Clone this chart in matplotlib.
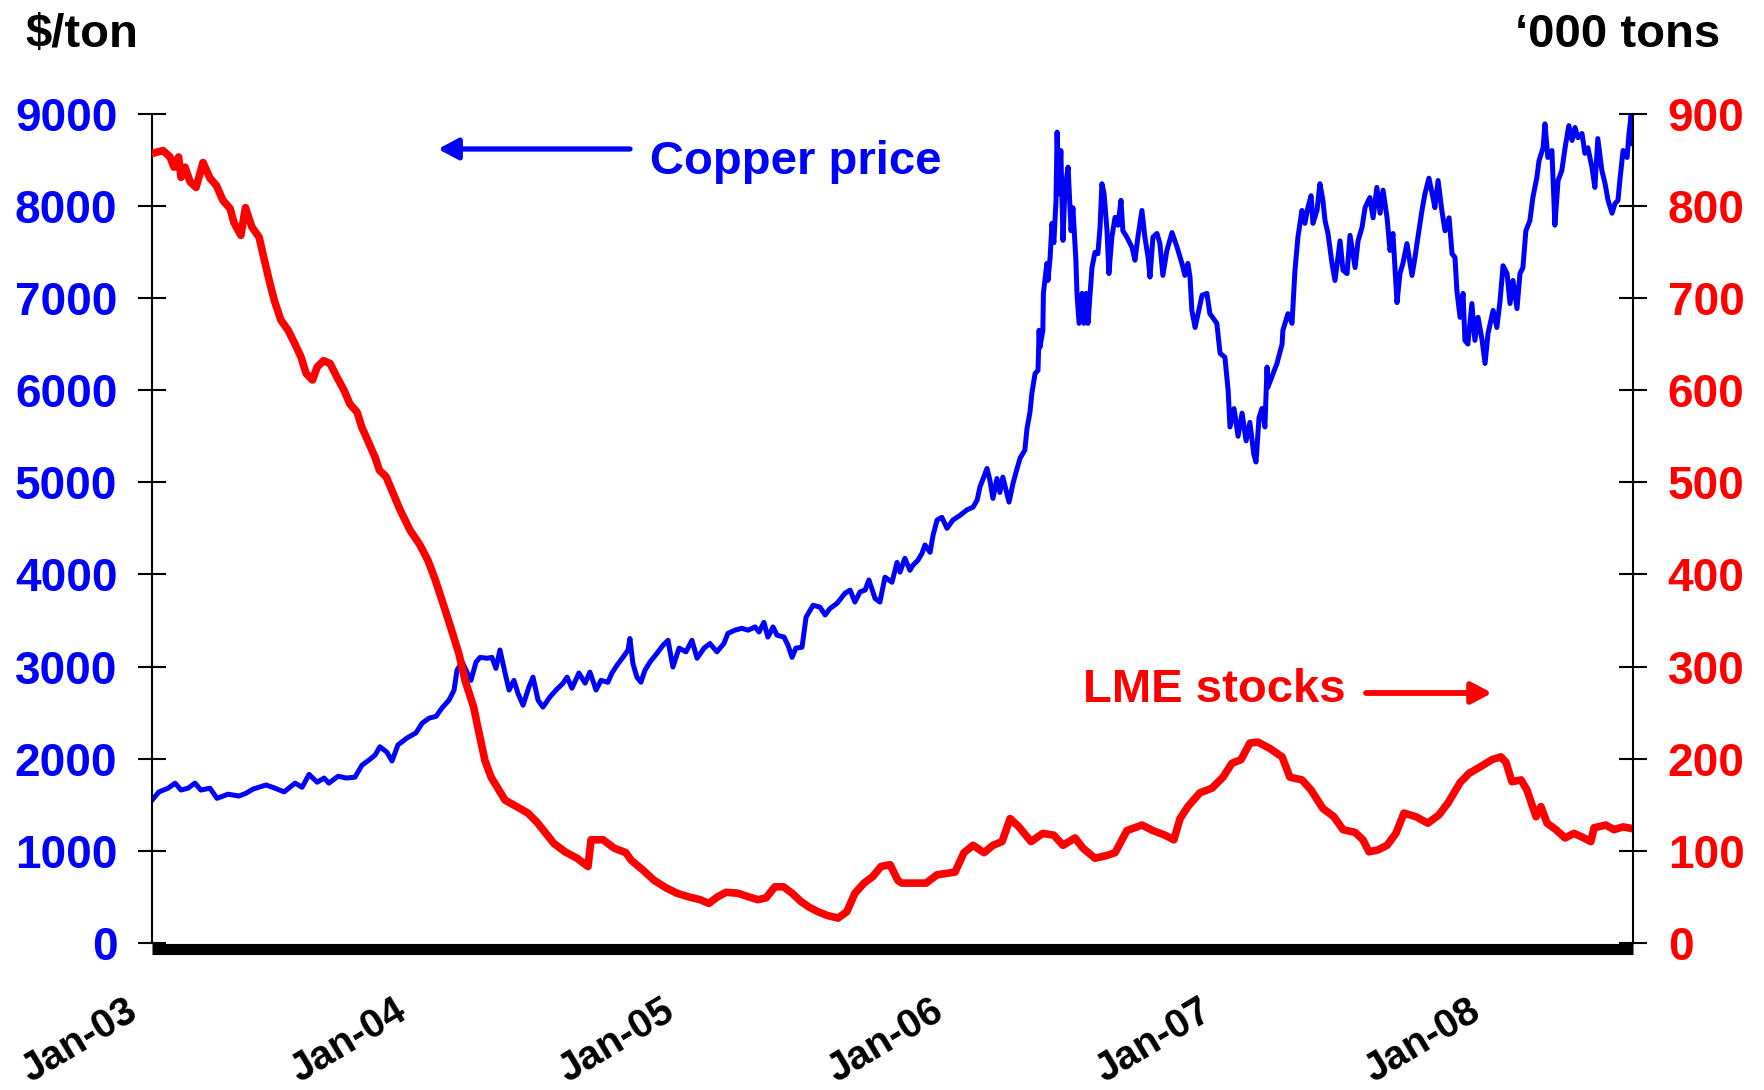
import matplotlib
matplotlib.use("Agg")
import matplotlib.pyplot as plt
import matplotlib.transforms as mtransforms

plt.rcParams['font.family'] = ['Liberation Sans', 'DejaVu Sans']
plt.rcParams['font.weight'] = 'bold'

# copper price, $/ton  (x = years since 1 Jan 2003)
t_copper = [
    0.000, 0.026, 0.060, 0.086, 0.108, 0.134, 0.160, 0.182, 0.216, 0.242,
    0.283, 0.324, 0.350, 0.376, 0.425, 0.458, 0.492, 0.533, 0.559, 0.585,
    0.615, 0.641, 0.659, 0.693, 0.723, 0.756, 0.782, 0.808, 0.831, 0.849,
    0.875, 0.894, 0.916, 0.950, 0.983, 1.006, 1.032, 1.058, 1.080, 1.106,
    1.125, 1.136, 1.155, 1.173, 1.188, 1.207, 1.222, 1.248, 1.266, 1.281,
    1.296, 1.315, 1.330, 1.348, 1.363, 1.382, 1.404, 1.419, 1.438, 1.456,
    1.482, 1.505, 1.531, 1.546, 1.564, 1.590, 1.613, 1.631, 1.654, 1.672,
    1.698, 1.713, 1.732, 1.754, 1.773, 1.780, 1.791, 1.806, 1.821, 1.836,
    1.855, 1.881, 1.903, 1.922, 1.940, 1.963, 1.989, 2.011, 2.030, 2.056,
    2.078, 2.104, 2.130, 2.145, 2.171, 2.197, 2.220, 2.246, 2.261, 2.279,
    2.294, 2.313, 2.328, 2.354, 2.369, 2.384, 2.398, 2.421, 2.436, 2.462,
    2.488, 2.507, 2.525, 2.551, 2.581, 2.600, 2.618, 2.637, 2.656, 2.670,
    2.693, 2.711, 2.730, 2.756, 2.775, 2.786, 2.804, 2.823, 2.834, 2.853,
    2.868, 2.879, 2.898, 2.909, 2.924, 2.942, 2.961, 2.983, 3.009, 3.035,
    3.058, 3.073, 3.084, 3.110, 3.121, 3.132, 3.147, 3.158, 3.169, 3.184,
    3.192, 3.207, 3.222, 3.233, 3.251, 3.259, 3.270, 3.277, 3.289, 3.300,
    3.304, 3.307, 3.318, 3.320, 3.333, 3.337, 3.345, 3.352, 3.359, 3.367,
    3.371, 3.378, 3.385, 3.393, 3.400, 3.412, 3.423, 3.430, 3.441, 3.445,
    3.453, 3.464, 3.471, 3.479, 3.486, 3.501, 3.512, 3.523, 3.531, 3.538,
    3.546, 3.557, 3.564, 3.575, 3.587, 3.598, 3.609, 3.616, 3.631, 3.650,
    3.661, 3.672, 3.687, 3.698, 3.710, 3.717, 3.728, 3.743, 3.754, 3.765,
    3.780, 3.799, 3.818, 3.836, 3.847, 3.858, 3.866, 3.873, 3.885, 3.911,
    3.929, 3.940, 3.966, 3.978, 3.996, 4.008, 4.015, 4.030, 4.045, 4.060,
    4.075, 4.089, 4.104, 4.112, 4.123, 4.134, 4.145, 4.153, 4.156, 4.190,
    4.209, 4.212, 4.231, 4.246, 4.250, 4.257, 4.268, 4.283, 4.294, 4.305,
    4.317, 4.324, 4.339, 4.350, 4.361, 4.369, 4.380, 4.395, 4.406, 4.425,
    4.436, 4.451, 4.462, 4.481, 4.492, 4.507, 4.518, 4.536, 4.548, 4.562,
    4.574, 4.585, 4.600, 4.611, 4.622, 4.637, 4.648, 4.659, 4.674, 4.693,
    4.704, 4.715, 4.730, 4.741, 4.756, 4.771, 4.778, 4.790, 4.804, 4.816,
    4.831, 4.842, 4.853, 4.860, 4.872, 4.883, 4.890, 4.901, 4.916, 4.927,
    4.939, 4.954, 4.965, 4.976, 4.995, 5.009, 5.021, 5.032, 5.047, 5.058,
    5.069, 5.084, 5.095, 5.106, 5.117, 5.132, 5.143, 5.158, 5.166, 5.181,
    5.188, 5.199, 5.214, 5.225, 5.237, 5.251, 5.263, 5.277, 5.289, 5.300,
    5.311, 5.326, 5.337, 5.348, 5.363, 5.374, 5.385, 5.400, 5.412, 5.423,
    5.438, 5.449, 5.460, 5.467, 5.479, 5.494, 5.501, 5.509, 5.516,
]
copper = [
    1550, 1640, 1680, 1735, 1660, 1680, 1735, 1660, 1680, 1570,
    1615, 1595, 1625, 1670, 1715, 1680, 1640, 1735, 1690, 1830,
    1745, 1790, 1735, 1810, 1790, 1800, 1930, 1985, 2040, 2130,
    2070, 1975, 2150, 2225, 2280, 2385, 2440, 2460, 2550, 2635,
    2745, 2960, 3050, 2940, 2850, 3050, 3100, 3090, 3100, 2980,
    3180, 2930, 2745, 2850, 2710, 2580, 2780, 2885, 2635, 2560,
    2670, 2745, 2820, 2885, 2765, 2930, 2820, 2940, 2745, 2850,
    2830, 2930, 3015, 3100, 3180, 3305, 3035, 2885, 2830, 2960,
    3050, 3145, 3230, 3285, 2995, 3200, 3160, 3285, 3090, 3200,
    3250, 3160, 3250, 3360, 3395, 3415, 3395, 3430, 3375, 3480,
    3320, 3430, 3340, 3320, 3230, 3100, 3200, 3210, 3535, 3665,
    3645, 3560, 3630, 3685, 3795, 3830, 3700, 3810, 3830, 3940,
    3740, 3700, 3970, 3915, 4130, 4025, 4175, 4045, 4100, 4155,
    4230, 4320, 4240, 4425, 4590, 4620, 4500, 4590, 4640, 4700,
    4730, 4805, 4950, 5150, 5020, 4825, 5040, 4890, 5055, 4880,
    4785, 4990, 5150, 5260, 5350, 5585, 5760, 5965, 6180, 6215,
    6650, 6465, 6650, 7050, 7375, 7190, 7440, 7810, 7600, 8060,
    8800, 8130, 8600, 7625, 8170, 8420, 7730, 7980, 7410, 7050,
    6725, 7050, 6725, 7050, 6725, 7330, 7495, 7480, 7770, 8240,
    8130, 7730, 7265, 7660, 7875, 7790, 8060, 7730, 7660, 7550,
    7410, 7660, 7950, 7660, 7440, 7227, 7660, 7700, 7590, 7245,
    7516, 7710, 7550, 7375, 7245, 7375, 7230, 6865, 6680, 7030,
    7050, 6830, 6725, 6400, 6357, 6000, 5600, 5800, 5500, 5750,
    5450, 5650, 5300, 5220, 5700, 5800, 5600, 6250, 6030, 6290,
    6500, 6650, 6830, 6725, 6940, 7300, 7660, 7950, 7810, 7980,
    8110, 7810, 7950, 8240, 8060, 7840, 7700, 7375, 7190, 7620,
    7300, 7265, 7680, 7330, 7620, 7770, 7980, 8090, 7870, 8200,
    7920, 8170, 7870, 7516, 7700, 6950, 7265, 7375, 7590, 7245,
    7440, 7660, 7950, 8130, 8300, 8090, 7980, 8275, 7950, 7730,
    7870, 7480, 7440, 7080, 6790, 7050, 6540, 6500, 6940, 6540,
    6790, 6540, 6290, 6615, 6865, 6680, 6975, 7350, 7265, 6940,
    7190, 6885, 7265, 7330, 7730, 7840, 8090, 8310, 8490, 8630,
    8890, 8525, 8600, 7790, 8275, 8385, 8630, 8870, 8710, 8850,
    8740, 8785, 8570, 8630, 8420, 8200, 8730, 8385, 8240, 8060,
    7920, 8025, 8060, 8275, 8600, 8525, 8785, 8980, 8675,
]

# LME copper stocks, '000 tons  (x = years since 1 Jan 2003)
t_stocks = [
    0.003, 0.041, 0.067, 0.082, 0.099, 0.108, 0.123, 0.142, 0.164, 0.190,
    0.216, 0.240, 0.264, 0.291, 0.305, 0.331, 0.348, 0.372, 0.399, 0.413,
    0.439, 0.456, 0.480, 0.507, 0.531, 0.555, 0.574, 0.598, 0.615, 0.639,
    0.663, 0.689, 0.715, 0.737, 0.764, 0.781, 0.804, 0.831, 0.847, 0.872,
    0.898, 0.924, 0.961, 0.998, 1.028, 1.054, 1.080, 1.112, 1.143, 1.166,
    1.198, 1.218, 1.240, 1.263, 1.292, 1.315, 1.358, 1.400, 1.434, 1.464,
    1.497, 1.538, 1.583, 1.624, 1.635, 1.680, 1.721, 1.765, 1.784, 1.829,
    1.870, 1.914, 1.955, 2.000, 2.041, 2.074, 2.106, 2.138, 2.182, 2.223,
    2.257, 2.287, 2.320, 2.352, 2.384, 2.417, 2.447, 2.480, 2.514, 2.555,
    2.588, 2.618, 2.652, 2.684, 2.715, 2.749, 2.778, 2.793, 2.883, 2.924,
    2.991, 3.024, 3.058, 3.099, 3.132, 3.166, 3.196, 3.229, 3.274, 3.318,
    3.359, 3.393, 3.438, 3.467, 3.512, 3.557, 3.587, 3.631, 3.687, 3.728,
    3.773, 3.806, 3.829, 3.858, 3.903, 3.948, 3.989, 4.022, 4.056, 4.089,
    4.119, 4.164, 4.209, 4.238, 4.283, 4.317, 4.361, 4.402, 4.436, 4.481,
    4.510, 4.533, 4.566, 4.600, 4.633, 4.663, 4.708, 4.752, 4.793, 4.827,
    4.872, 4.905, 4.946, 4.991, 5.024, 5.043, 5.065, 5.099, 5.121, 5.155,
    5.173, 5.196, 5.229, 5.263, 5.296, 5.326, 5.359, 5.371, 5.415, 5.445,
    5.479, 5.516,
]
stocks = [
    857, 860, 853, 842, 853, 831, 842, 826, 820, 847,
    830, 822, 806, 797, 782, 768, 798, 777, 766, 748,
    716, 697, 676, 665, 651, 636, 618, 611, 625, 632,
    629, 614, 600, 585, 576, 560, 545, 527, 513, 506,
    488, 470, 448, 432, 415, 395, 372, 343, 314, 285,
    256, 228, 198, 180, 166, 155, 148, 141, 131, 120,
    108, 99, 92, 83, 112, 112, 103, 98, 90, 79,
    68, 60, 54, 50, 47, 43, 50, 55, 54, 50,
    47, 49, 61, 61, 54, 45, 39, 34, 30, 27,
    34, 54, 65, 72, 83, 85, 68, 65, 65, 74,
    77, 98, 106, 98, 106, 110, 135, 126, 110, 119,
    117, 106, 114, 103, 92, 95, 98, 122, 128, 122,
    117, 112, 135, 148, 163, 168, 180, 195, 199, 217,
    218, 211, 202, 180, 177, 166, 146, 137, 123, 120,
    112, 99, 101, 106, 119, 141, 137, 130, 139, 152,
    174, 184, 191, 199, 202, 196, 175, 177, 166, 137,
    148, 130, 123, 114, 119, 115, 110, 125, 128, 123,
    126, 124,
]

year_ticks = [0, 1, 2, 3, 4, 5]
year_labels = ['Jan-03', 'Jan-04', 'Jan-05', 'Jan-06', 'Jan-07', 'Jan-08']
price_ticks = [0, 1000, 2000, 3000, 4000, 5000, 6000, 7000, 8000, 9000]
stock_ticks = [0, 100, 200, 300, 400, 500, 600, 700, 800, 900]

BLUE = '#0000ff'
RED = '#ff0000'

W, H = 1765, 1090
fig = plt.figure(figsize=(W / 100, H / 100), dpi=100)
ax = fig.add_axes([152 / W, 1 - 943 / H, 1481 / W, 829.3 / H])
ax2 = ax.twinx()

ax.plot(t_copper, copper, color=BLUE, lw=3.6, solid_joinstyle='round')
ax2.plot(t_stocks, stocks, color=RED, lw=5.5, solid_joinstyle='round',
         solid_capstyle='round')

ax.set_xlim(0, t_copper[-1])
ax.set_ylim(0, 9000)
ax2.set_ylim(0, 900)

# spines: thin left/right, heavy bar along the bottom
for s in ['top', 'right']:
    ax.spines[s].set_visible(False)
for s in ['top', 'bottom', 'left']:
    ax2.spines[s].set_visible(False)
ax.spines['left'].set_linewidth(1.5)
ax2.spines['right'].set_linewidth(1.5)
ax.spines['bottom'].set_linewidth(8)
ax.spines['bottom'].set_capstyle('butt')
ax.spines['bottom'].set_position(('outward', 4))

ax.set_yticks(price_ticks)
ax2.set_yticks(stock_ticks)
ax.tick_params(axis='y', direction='inout', length=20, width=1.5, pad=15,
               labelsize=33, labelcolor=BLUE)
ax2.tick_params(axis='y', direction='inout', length=20, width=1.5, pad=15,
                labelsize=33, labelcolor=RED)

ax.set_xticks(year_ticks)
ax.set_xticklabels(year_labels)
ax.tick_params(axis='x', length=0, pad=31, labelsize=29)
shift = mtransforms.ScaledTranslation(-0.08, 0, fig.dpi_scale_trans)
for lab in ax.get_xticklabels():
    lab.set_rotation(31)
    lab.set_ha('right')
    lab.set_va('top')
    lab.set_transform(lab.get_transform() + shift)

# axis unit labels
fig.text(25 / W, 1 - 47 / H, '$/ton', fontsize=34, ha='left', va='baseline')
fig.text(1720 / W, 1 - 47 / H, '\u2018000 tons', fontsize=34, ha='right',
         va='baseline')

# series callouts with arrows
fig.text(650 / W, 1 - 174 / H, 'Copper price', fontsize=34, color=BLUE,
         ha='left', va='baseline')
ax.annotate('', xy=(438 / W, 1 - 149 / H), xytext=(630 / W, 1 - 149 / H),
            xycoords='figure fraction', textcoords='figure fraction',
            arrowprops=dict(arrowstyle='-|>,head_length=0.6,head_width=0.32',
                            mutation_scale=20, lw=3.8, color=BLUE,
                            shrinkA=0, shrinkB=0))

fig.text(1083 / W, 1 - 702 / H, 'LME stocks', fontsize=34, color=RED,
         ha='left', va='baseline')
ax.annotate('', xy=(1492 / W, 1 - 693 / H), xytext=(1366 / W, 1 - 693 / H),
            xycoords='figure fraction', textcoords='figure fraction',
            arrowprops=dict(arrowstyle='-|>,head_length=0.6,head_width=0.32',
                            mutation_scale=20, lw=4.2, color=RED,
                            shrinkA=0, shrinkB=0))

fig.savefig('out.png', dpi=100)
